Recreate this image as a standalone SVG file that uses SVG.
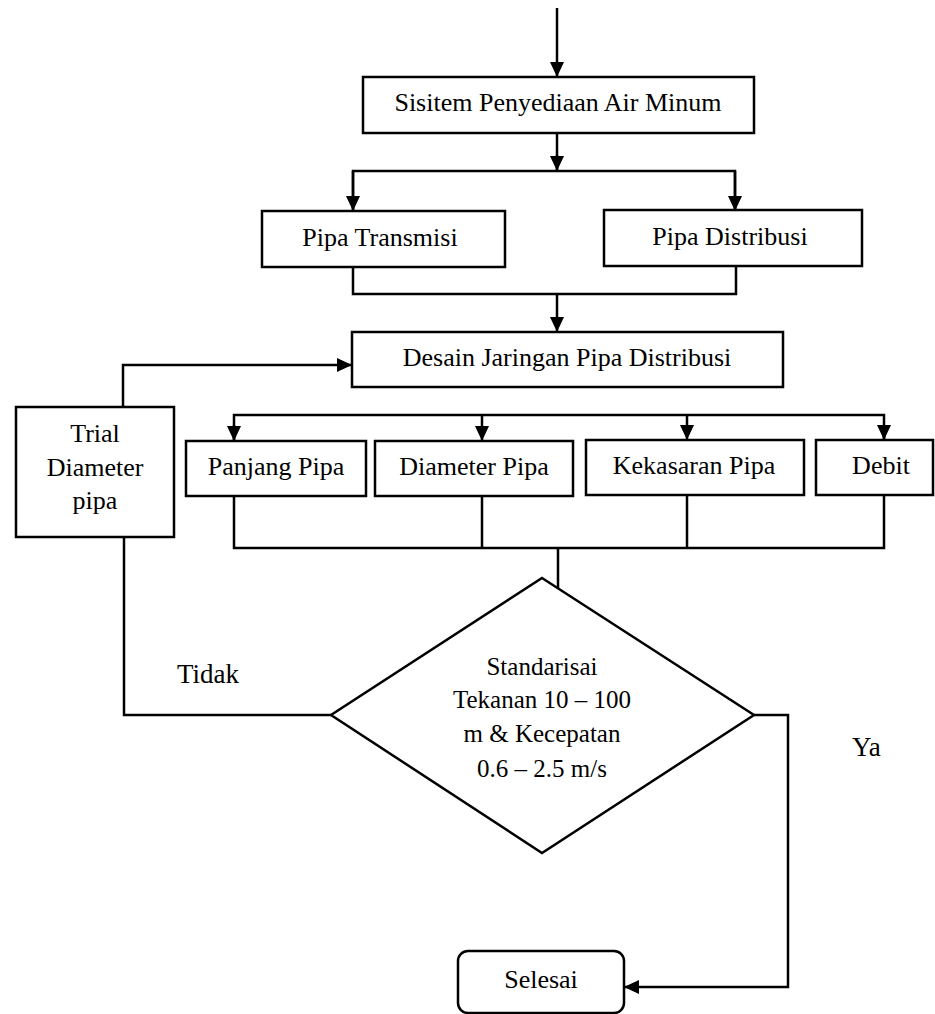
<svg xmlns="http://www.w3.org/2000/svg" width="935" height="1014" viewBox="0 0 935 1014">
<style>
.box{fill:#fff;stroke:#000;stroke-width:2.5}
.ln{fill:none;stroke:#000;stroke-width:2.5}
.t{font-family:"Liberation Serif","Times New Roman",serif;font-size:26px;fill:#000;text-anchor:middle}
.d{font-size:25px}
.lbl{font-family:"Liberation Serif","Times New Roman",serif;font-size:27px;fill:#000}
</style>
<defs>
<marker id="ah" viewBox="0 0 15 14" refX="15" refY="7" markerWidth="15" markerHeight="14" orient="auto" markerUnits="userSpaceOnUse">
<path d="M0,0 L15,7 L0,14 z" fill="#000"/>
</marker>
</defs>
<g id="connectors">
<path class="ln" d="M557,8 V77" marker-end="url(#ah)"/>
<path class="ln" d="M557,133 V171"/>
<path class="ln" d="M353,211 V171 H735 V211"/>
<path class="ln" d="M353,171 V211" marker-end="url(#ah)"/>
<path class="ln" d="M735,171 V211" marker-end="url(#ah)"/>
<path class="ln" d="M557,155 V171" marker-end="url(#ah)"/>
<path class="ln" d="M353,267 V294 H736 V266"/>
<path class="ln" d="M557,294 V332" marker-end="url(#ah)"/>
<path class="ln" d="M123,407 V365 H352" marker-end="url(#ah)"/>
<path class="ln" d="M234,440 V415 H884 V440"/>
<path class="ln" d="M234,425 V441" marker-end="url(#ah)"/>
<path class="ln" d="M482,415 V441" marker-end="url(#ah)"/>
<path class="ln" d="M687,415 V440" marker-end="url(#ah)"/>
<path class="ln" d="M884,425 V440" marker-end="url(#ah)"/>
<path class="ln" d="M234,496 V548 H884 V494"/>
<path class="ln" d="M482,496 V548"/>
<path class="ln" d="M687,495 V548"/>
<path class="ln" d="M558,548 V589"/>
<path class="ln" d="M124,537 V715 H331"/>
<path class="ln" d="M754,715 H788 V987 H624" marker-end="url(#ah)"/>
<text class="lbl" x="177" y="683">Tidak</text>
<text class="lbl" x="852" y="756">Ya</text>
</g>
<g id="n-spam">
<rect class="box" x="363" y="77" width="391" height="56"/>
<text class="t" x="558" y="111">Sisitem Penyediaan Air Minum</text>
</g>
<g id="n-transmisi">
<rect class="box" x="262" y="211" width="243" height="56"/>
<text class="t" x="380" y="246">Pipa Transmisi</text>
</g>
<g id="n-distribusi">
<rect class="box" x="604" y="210" width="258" height="56"/>
<text class="t" x="730" y="245">Pipa Distribusi</text>
</g>
<g id="n-desain">
<rect class="box" x="352" y="332" width="431" height="55"/>
<text class="t" x="567" y="366">Desain Jaringan Pipa Distribusi</text>
</g>
<g id="n-trial">
<rect class="box" x="16" y="407" width="158" height="130"/>
<text class="t" x="95" y="442">Trial</text>
<text class="t" x="95" y="476">Diameter</text>
<text class="t" x="95" y="509">pipa</text>
</g>
<g id="n-panjang">
<rect class="box" x="186" y="441" width="180" height="55"/>
<text class="t" x="276" y="475">Panjang Pipa</text>
</g>
<g id="n-diameter">
<rect class="box" x="375" y="441" width="198" height="55"/>
<text class="t" x="474" y="475">Diameter Pipa</text>
</g>
<g id="n-kekasaran">
<rect class="box" x="586" y="440" width="218" height="55"/>
<text class="t" x="694" y="474">Kekasaran Pipa</text>
</g>
<g id="n-debit">
<rect class="box" x="816" y="440" width="117" height="55"/>
<text class="t" x="881" y="474">Debit</text>
</g>
<g id="n-standar">
<polygon class="box" points="542,578 754,715 542,853 331,715"/>
<text class="t d" x="542" y="675">Standarisai</text>
<text class="t d" x="542" y="708">Tekanan 10 – 100</text>
<text class="t d" x="542" y="742">m &amp; Kecepatan</text>
<text class="t d" x="542" y="777">0.6 – 2.5 m/s</text>
</g>
<g id="n-selesai">
<rect class="box" x="458" y="951" width="166" height="62" rx="10"/>
<text class="t" x="541" y="988">Selesai</text>
</g>
</svg>
